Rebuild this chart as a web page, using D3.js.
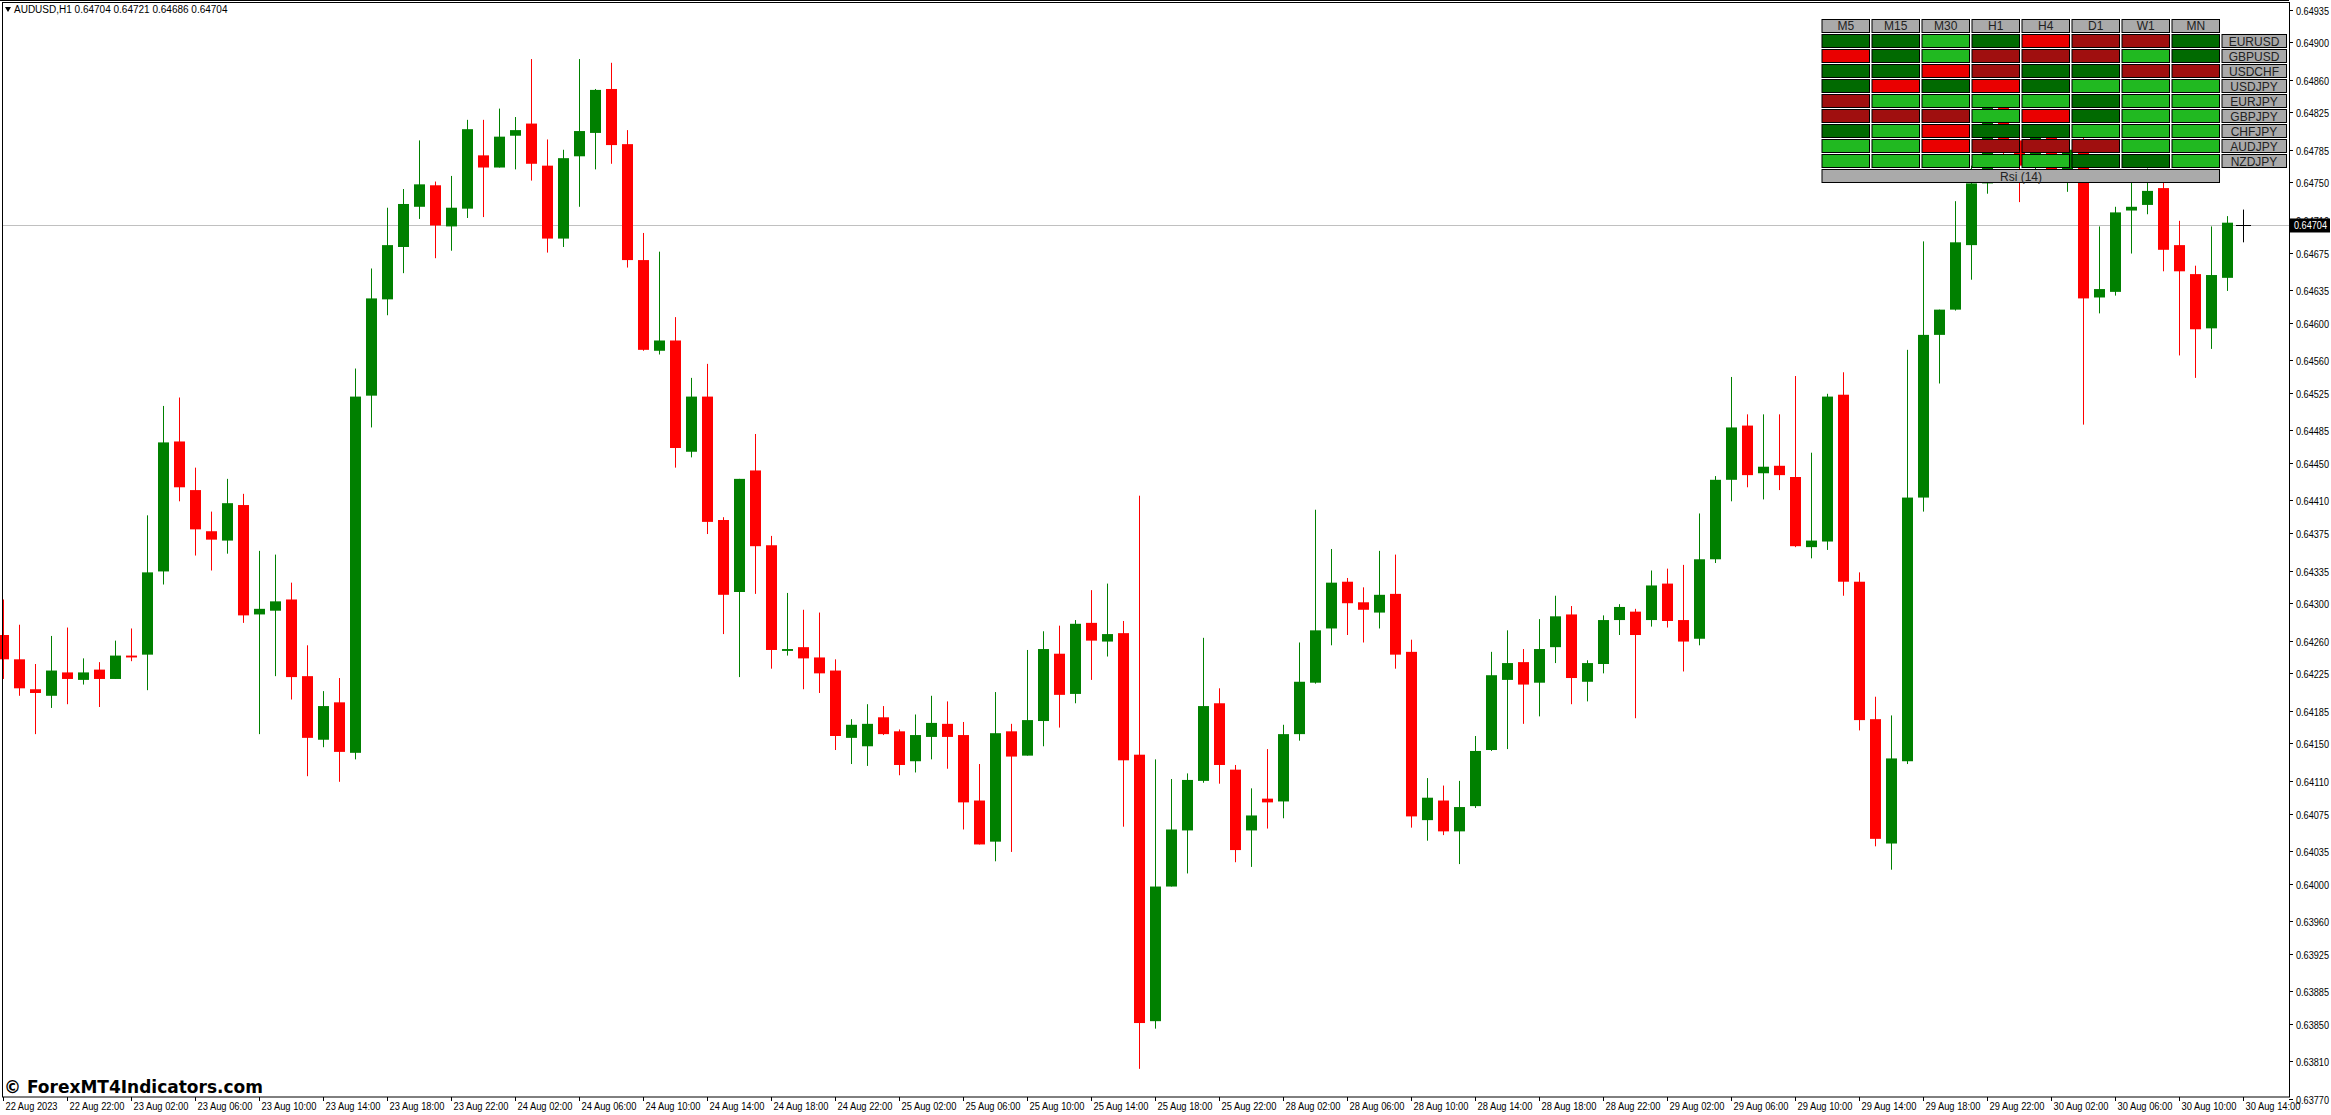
<!DOCTYPE html>
<html><head><meta charset="utf-8">
<script src="https://cdn.jsdelivr.net/npm/d3@7"></script>
<style>html,body{margin:0;padding:0;background:#fff;overflow:hidden}</style>
</head><body>
<svg id="c" width="2331" height="1115"></svg>
<script>
// prices in units of 0.00001 (AUDUSD H1)
const opens  = [64266,64240,64208,64201,64226,64218,64229,64219,64244,64245,64334,64473,64421,64377,64367,64405,64288,64292,64304,64222,64154,64194,64140,64522,64625,64681,64724,64747,64703,64722,64779,64766,64800,64813,64768,64690,64778,64803,64850,64791,64667,64570,64581,64462,64521,64389,64312,64442,64362,64249,64253,64242,64228,64156,64147,64178,64163,64131,64157,64171,64159,64089,64045,64163,64137,64174,64246,64203,64279,64259,64268,64138,63853,63997,64057,64110,64193,64122,64057,64091,64088,64160,64215,64273,64323,64301,64290,64310,64248,64068,64089,64056,64083,64143,64218,64237,64215,64253,64288,64216,64235,64282,64291,64282,64321,64282,64262,64347,64432,64490,64439,64447,64435,64360,64366,64523,64323,64176,64043,64131,64413,64587,64614,64683,64749,64831,64795,64767,64799,64763,64782,64627,64633,64720,64726,64744,64683,64652,64594,64648,64704];
const highs  = [64304,64277,64235,64265,64274,64241,64237,64260,64273,64394,64511,64520,64445,64398,64433,64417,64356,64352,64322,64255,64206,64220,64551,64658,64723,64743,64795,64751,64757,64817,64817,64829,64820,64882,64796,64785,64882,64850,64878,64806,64696,64676,64606,64541,64556,64392,64433,64481,64372,64311,64293,64290,64240,64176,64192,64190,64165,64181,64201,64195,64173,64128,64205,64171,64250,64270,64276,64282,64314,64321,64281,64415,64133,64112,64118,64263,64209,64127,64102,64144,64170,64258,64400,64358,64327,64317,64356,64352,64261,64113,64105,64110,64158,64248,64271,64251,64283,64308,64297,64239,64287,64299,64294,64335,64337,64341,64396,64436,64542,64502,64502,64502,64543,64461,64524,64547,64333,64200,64180,64571,64687,64614,64730,64768,64838,64840,64810,64812,64806,64795,64800,64703,64724,64750,64765,64760,64709,64661,64703,64714,64721];
const lows   = [64219,64201,64160,64188,64192,64213,64189,64219,64238,64207,64320,64409,64351,64335,64353,64279,64160,64222,64197,64115,64146,64109,64133,64488,64608,64653,64711,64669,64677,64712,64713,64766,64764,64752,64675,64681,64724,64764,64770,64659,64570,64566,64445,64456,64374,64267,64221,64310,64230,64244,64208,64204,64143,64128,64126,64159,64116,64119,64133,64123,64058,64042,64024,64034,64137,64147,64167,64193,64218,64243,64061,63802,63845,63997,64011,64108,64107,64023,64018,64059,64070,64153,64214,64255,64266,64258,64273,64230,64060,64046,64052,64021,64081,64142,64144,64171,64179,64236,64192,64195,64225,64266,64177,64275,64274,64227,64255,64343,64409,64424,64411,64421,64360,64348,64357,64308,64164,64040,64015,64128,64398,64535,64613,64646,64738,64780,64729,64755,64755,64740,64491,64610,64629,64674,64716,64655,64565,64541,64572,64634,64686];
const closes = [64240,64209,64204,64228,64219,64226,64219,64244,64242,64333,64472,64424,64379,64368,64407,64287,64294,64302,64221,64156,64190,64141,64521,64626,64683,64727,64748,64704,64723,64807,64766,64799,64806,64770,64690,64776,64805,64849,64790,64667,64571,64581,64466,64521,64387,64309,64433,64361,64250,64251,64241,64225,64158,64170,64171,64160,64127,64159,64172,64157,64087,64042,64161,64136,64175,64251,64202,64278,64260,64267,64132,63851,63997,64058,64111,64190,64127,64036,64073,64087,64160,64216,64271,64322,64300,64293,64309,64245,64072,64092,64056,64082,64142,64223,64236,64213,64251,64286,64220,64236,64282,64296,64266,64319,64281,64259,64347,64432,64488,64437,64446,64437,64361,64367,64521,64323,64175,64048,64134,64413,64587,64614,64686,64749,64831,64795,64768,64799,64763,64785,64626,64636,64718,64724,64741,64678,64655,64593,64651,64707,64704];
const priceTicks = [64935,64900,64860,64825,64785,64750,64710,64675,64635,64600,64560,64525,64485,64450,64410,64375,64335,64300,64260,64225,64185,64150,64110,64075,64035,64000,63960,63925,63885,63850,63810,63770];
const timeLabels = ["22 Aug 2023","22 Aug 22:00","23 Aug 02:00","23 Aug 06:00","23 Aug 10:00","23 Aug 14:00","23 Aug 18:00","23 Aug 22:00","24 Aug 02:00","24 Aug 06:00","24 Aug 10:00","24 Aug 14:00","24 Aug 18:00","24 Aug 22:00","25 Aug 02:00","25 Aug 06:00","25 Aug 10:00","25 Aug 14:00","25 Aug 18:00","25 Aug 22:00","28 Aug 02:00","28 Aug 06:00","28 Aug 10:00","28 Aug 14:00","28 Aug 18:00","28 Aug 22:00","29 Aug 02:00","29 Aug 06:00","29 Aug 10:00","29 Aug 14:00","29 Aug 18:00","29 Aug 22:00","30 Aug 02:00","30 Aug 06:00","30 Aug 10:00","30 Aug 14:00"];
const lastPrice = 64704;
const pairs = ["EURUSD","GBPUSD","USDCHF","USDJPY","EURJPY","GBPJPY","CHFJPY","AUDJPY","NZDJPY"];
const frames = ["M5","M15","M30","H1","H4","D1","W1","MN"];
// G dark green, g light green, R red, r dark red
const signals = ["GGgGRrrG","RGgrrrgG","GGRrGGrr","GRGRGggg","rggggGgg","rrrgRGgg","GgRGGggg","ggRrrrgg","gggggGGg"];
const sigColor = {G:"#016a01",g:"#21b921",R:"#ea0000",r:"#a00f0f"};

const svg = d3.select("#c");
const L=2, T=3, R=2289, B=1097;
const x = d3.scaleLinear().domain([0,140]).range([3,2243]);
const y = d3.scaleLinear().domain([63775,64935]).range([9.5+1160*0.935, 9.5]);
const font = "Liberation Sans, Arial, sans-serif";

svg.append("line").attr("x1",L).attr("x2",R).attr("y1",Math.round(y(lastPrice))+0.5).attr("y2",Math.round(y(lastPrice))+0.5).attr("stroke","#c0c0c0");

const idx = d3.range(opens.length);
const col = i => closes[i]>opens[i] ? "#008000" : (closes[i]<opens[i] ? "#ff0000" : "#000");
const g = svg.append("g");
g.selectAll("line.w").data(idx).join("line")
  .attr("x1",i=>Math.round(x(i))+0.5).attr("x2",i=>Math.round(x(i))+0.5)
  .attr("y1",i=>y(highs[i])).attr("y2",i=>y(lows[i])).attr("stroke",col).attr("stroke-width",1);
g.selectAll("rect.b").data(idx.filter(i=>opens[i]!==closes[i])).join("rect")
  .attr("x",i=>Math.round(x(i))-5).attr("width",11)
  .attr("y",i=>y(Math.max(opens[i],closes[i])))
  .attr("height",i=>Math.max(1,Math.abs(y(opens[i])-y(closes[i]))))
  .attr("fill",col);
g.selectAll("line.d").data(idx.filter(i=>opens[i]===closes[i])).join("line")
  .attr("x1",i=>Math.round(x(i))-7).attr("x2",i=>Math.round(x(i))+8)
  .attr("y1",i=>Math.round(y(opens[i]))+0.5).attr("y2",i=>Math.round(y(opens[i]))+0.5).attr("stroke","#000");

svg.append("line").attr("x1",0).attr("x2",R).attr("y1",0.5).attr("y2",0.5).attr("stroke","#000");
svg.append("rect").attr("x",L+0.5).attr("y",T-0.5).attr("width",R-L).attr("height",B-T+0.5).attr("fill","none").attr("stroke","#000");

const pa = svg.append("g");
priceTicks.forEach(p=>{
  const yy = Math.round(y(p))+0.5;
  pa.append("line").attr("x1",R).attr("x2",R+4).attr("y1",yy).attr("y2",yy).attr("stroke","#000");
  pa.append("text").attr("x",R+7).attr("y",yy+4).attr("font-family",font).attr("font-size",11)
    .attr("textLength",33).attr("lengthAdjust","spacingAndGlyphs").attr("fill","#000").text((p/1e5).toFixed(5));
});
const ly = y(lastPrice);
pa.append("rect").attr("x",R+1).attr("y",ly-7).attr("width",40).attr("height",14).attr("fill","#000");
pa.append("text").attr("x",R+5).attr("y",ly+4).attr("font-family",font).attr("font-size",11)
  .attr("textLength",33).attr("lengthAdjust","spacingAndGlyphs").attr("fill","#fff").text((lastPrice/1e5).toFixed(5));

timeLabels.forEach((t,k)=>{
  const xx = Math.round(x(k*4))+0.5;
  svg.append("line").attr("x1",xx).attr("x2",xx).attr("y1",B).attr("y2",B+4).attr("stroke","#000");
  svg.append("text").attr("x",xx+2).attr("y",B+13).attr("font-family",font).attr("font-size",11)
    .attr("textLength",t.length>11?55:52).attr("lengthAdjust","spacingAndGlyphs").attr("fill","#000").text(t);
});

svg.append("path").attr("d","M5,7 L11,7 L8,12 Z").attr("fill","#000");
svg.append("text").attr("x",14).attr("y",13).attr("font-family",font).attr("font-size",10).attr("fill","#000")
  .text("AUDUSD,H1  "+[opens[140],highs[140],lows[140],closes[140]].map(v=>(v/1e5).toFixed(5)).join(" "));

svg.append("text").attr("x",4).attr("y",1093).attr("font-family","DejaVu Sans, sans-serif").attr("font-weight","bold").attr("font-size",17).attr("fill","#000").text("© ForexMT4Indicators.com");

const px0=1822, cw=47.5, pitch=50, rh=13, rp=15;
const pn = svg.append("g");
frames.forEach((f,j)=>{
  pn.append("rect").attr("x",px0+j*pitch).attr("y",19.5).attr("width",cw).attr("height",rh).attr("fill","#aaa").attr("stroke","#000");
  pn.append("text").attr("x",px0+j*pitch+cw/2).attr("y",30).attr("text-anchor","middle").attr("font-family",font).attr("font-size",12).attr("fill","#222").text(f);
});
pairs.forEach((p,r)=>{
  const yy = 34.5+r*rp;
  signals[r].split("").forEach((s,j)=>{
    pn.append("rect").attr("x",px0+j*pitch).attr("y",yy).attr("width",cw).attr("height",rh).attr("fill",sigColor[s]).attr("stroke","#000");
  });
  pn.append("rect").attr("x",2222).attr("y",yy).attr("width",64.5).attr("height",rh).attr("fill","#aaa").attr("stroke","#000");
  pn.append("text").attr("x",2254).attr("y",yy+11).attr("text-anchor","middle").attr("font-family",font).attr("font-size",12).attr("fill","#222").text(p);
});
pn.append("rect").attr("x",px0).attr("y",169.5).attr("width",397.5).attr("height",13).attr("fill","#aaa").attr("stroke","#000");
pn.append("text").attr("x",px0+199).attr("y",180.5).attr("text-anchor","middle").attr("font-family",font).attr("font-size",12).attr("fill","#222").text("Rsi (14)");
</script>
</body></html>
